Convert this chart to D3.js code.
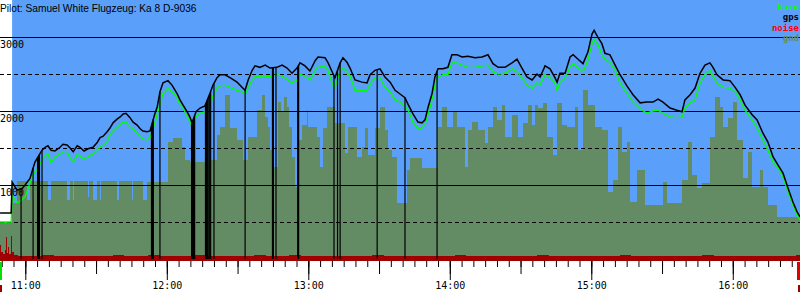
<!DOCTYPE html>
<html>
<head>
<meta charset="utf-8">
<script src="https://cdn.jsdelivr.net/npm/d3@7"></script>
<style>
  body { margin: 0; background: #fff; }
  svg { display: block; }
</style>
</head>
<body>
<div id="chart"></div>
<script>
// flight log, times are minutes after 10:00
const logStart = 49.27;
const logEnd = 388.5;
const launchMin = 54.4;

const timeMin = [
  49.3, 54.0, 54.4, 56.5, 58.6, 59.9, 62.0, 63.3, 64.1, 65.4,
  67.1, 68.4, 69.6, 70.9, 72.6, 74.7, 76.0, 77.7, 79.0, 80.3,
  82.0, 83.2, 84.9, 86.6, 88.7, 90.4, 91.7, 93.0, 94.7, 95.9,
  97.2, 98.9, 100.2, 101.5, 102.7, 104.4, 105.7, 107.4, 108.7, 109.9,
  111.6, 112.9, 114.2, 115.0, 115.9, 117.1, 118.4, 120.5, 122.2, 124.3,
  125.6, 126.9, 128.6, 129.9, 130.7, 132.4, 134.1, 136.2, 138.3, 139.6,
  141.3, 142.6, 144.7, 146.8, 149.8, 151.9, 153.2, 154.5, 156.2, 157.4,
  159.5, 161.7, 163.8, 166.7, 168.9, 171.0, 173.1, 175.2, 176.5, 178.6,
  180.7, 182.9, 184.1, 187.1, 188.4, 190.1, 191.3, 193.5, 194.7, 196.4,
  197.7, 199.8, 202.8, 204.9, 206.2, 208.3, 210.4, 212.5, 214.7, 216.8,
  218.9, 221.0, 222.3, 224.4, 226.5, 228.2, 229.5, 230.8, 232.5, 233.7,
  235.0, 237.1, 239.2, 240.9, 243.1, 245.2, 247.7, 250.7, 253.7, 256.2,
  258.3, 260.5, 263.4, 266.4, 268.5, 270.6, 272.7, 274.9, 277.0, 278.3,
  280.4, 282.5, 284.6, 285.5, 286.7, 288.9, 291.0, 292.3, 294.4, 296.5,
  298.6, 300.3, 301.2, 302.9, 304.5, 305.8, 307.9, 310.1, 312.2, 315.1,
  317.7, 320.7, 323.6, 326.2, 328.3, 330.4, 333.4, 336.3, 338.5, 339.7,
  341.9, 344.0, 346.1, 348.2, 350.3, 351.6, 353.3, 355.9, 358.8, 361.0,
  363.1, 365.2, 368.2, 370.3, 372.8, 374.9, 377.1, 379.2, 381.3, 383.4,
  385.5, 387.2, 388.5
];

const gpsAlt = [
  620, 620, 1040, 930, 950, 1000, 1090, 1230, 1310, 1380,
  1470, 1510, 1530, 1470, 1460, 1510, 1550, 1540, 1500, 1450,
  1530, 1510, 1460, 1490, 1510, 1570, 1640, 1660, 1720, 1770,
  1840, 1890, 1920, 1960, 1970, 1910, 1850, 1810, 1760, 1730,
  1720, 1730, 1880, 1970, 2050, 2260, 2380, 2410, 2350, 2240,
  2150, 2080, 1990, 1910, 1840, 1990, 2040, 2070, 2240, 2350,
  2450, 2490, 2490, 2450, 2390, 2320, 2280, 2420, 2550, 2610,
  2590, 2620, 2580, 2590, 2620, 2580, 2510, 2580, 2650, 2610,
  2540, 2680, 2730, 2720, 2650, 2530, 2450, 2650, 2720, 2660,
  2580, 2420, 2390, 2380, 2490, 2550, 2570, 2460, 2390, 2280,
  2230, 2180, 2090, 1960, 1850, 1840, 1880, 2050, 2240, 2460,
  2570, 2570, 2590, 2760, 2760, 2730, 2740, 2720, 2730, 2760,
  2640, 2590, 2590, 2650, 2700, 2580, 2460, 2420, 2500, 2460,
  2610, 2570, 2450, 2390, 2510, 2510, 2730, 2760, 2700, 2640,
  2800, 3040, 3090, 2990, 2910, 2780, 2760, 2620, 2490, 2340,
  2220, 2110, 2120, 2120, 2160, 2120, 2040, 2010, 1990, 2150,
  2220, 2310, 2510, 2620, 2650, 2590, 2490, 2420, 2410, 2320,
  2220, 2080, 1950, 1880, 1700, 1580, 1380, 1270, 1160, 960,
  770, 640, 570
];

const baroAlt = [
  500, 500, 860, 760, 800, 840, 1030, 1140, 1180, 1230,
  1340, 1390, 1420, 1300, 1380, 1420, 1450, 1450, 1360, 1310,
  1410, 1390, 1350, 1380, 1420, 1460, 1510, 1540, 1590, 1680,
  1730, 1780, 1820, 1850, 1850, 1780, 1760, 1700, 1650, 1620,
  1610, 1640, 1770, 1840, 1960, 2090, 2240, 2310, 2260, 2180,
  2090, 2040, 1930, 1850, 1780, 1920, 1970, 1990, 2080, 2200,
  2310, 2340, 2350, 2320, 2280, 2260, 2230, 2310, 2420, 2460,
  2470, 2470, 2460, 2490, 2470, 2430, 2380, 2420, 2500, 2470,
  2420, 2550, 2590, 2610, 2540, 2380, 2310, 2550, 2580, 2530,
  2470, 2280, 2280, 2280, 2360, 2450, 2450, 2320, 2260, 2150,
  2120, 2070, 2010, 1850, 1760, 1770, 1820, 1960, 2150, 2360,
  2460, 2490, 2490, 2650, 2650, 2620, 2590, 2590, 2610, 2620,
  2530, 2500, 2510, 2570, 2530, 2450, 2350, 2310, 2380, 2360,
  2490, 2460, 2380, 2280, 2390, 2450, 2590, 2640, 2580, 2530,
  2690, 2910, 2970, 2890, 2760, 2700, 2660, 2550, 2380, 2240,
  2120, 2030, 1970, 2000, 2010, 1970, 1920, 1910, 1920, 2040,
  2110, 2150, 2380, 2490, 2550, 2470, 2380, 2320, 2310, 2260,
  2150, 2010, 1880, 1770, 1610, 1470, 1310, 1230, 1110, 910,
  730, 590, 530
];

// moments without gps fix
const gpsDropMin = [
  58.2, 63.3, 65.2, 65.6, 66.0, 67.1,
  113.5, 113.9, 114.3, 117.1,
  130.5, 130.9, 131.3, 131.8,
  136.4, 136.8, 137.2, 137.8, 138.2, 138.6, 140.0,
  153.2, 164.8, 165.2, 166.3, 175.5, 175.9,
  190.9, 192.4, 193.5, 209.2, 221.0, 234.6
];

// terrain under the glider
const gndMin = [
  49.3, 54.4, 54.8, 56.5, 60.7, 62.0, 63.3, 63.7, 69.6, 70.9,
  77.7, 79.0, 80.3, 80.7, 86.6, 87.0, 88.7, 90.4, 91.7, 92.1,
  98.9, 99.7, 105.2, 105.7, 109.9, 111.6, 120.5, 122.6, 126.4, 127.7,
  129.9, 138.3, 141.3, 142.6, 144.7, 146.8, 149.8, 152.3, 154.5, 158.3,
  160.4, 161.7, 162.9, 163.8, 164.6, 167.2, 168.4, 169.7, 171.0, 171.8,
  173.1, 174.4, 175.7, 177.3, 179.4, 179.9, 183.7, 185.0, 186.2, 187.9,
  191.3, 195.6, 196.8, 200.7, 202.8, 204.0, 205.3, 208.3, 210.4, 212.5,
  213.8, 215.5, 217.6, 221.9, 223.1, 228.2, 235.0, 236.7, 238.8, 241.4,
  243.1, 246.5, 247.7, 249.4, 252.0, 254.9, 256.2, 258.3, 260.0, 262.1,
  263.4, 266.4, 268.9, 271.1, 273.2, 274.9, 276.1, 277.4, 279.5, 281.2,
  283.8, 285.5, 287.6, 289.7, 293.1, 294.4, 296.5, 298.6, 301.6, 304.5,
  307.1, 309.2, 311.3, 313.0, 315.1, 316.4, 319.4, 322.8, 330.4, 332.1,
  338.5, 341.0, 342.7, 344.8, 347.0, 350.3, 352.5, 354.6, 355.9, 358.0,
  360.1, 361.8, 364.3, 366.5, 368.2, 371.5, 372.8, 374.9, 378.8, 388.5
];
const gndAlt = [
  500, 1050, 760, 1050, 800, 1050, 800, 1050, 800, 1050,
  800, 1050, 800, 1050, 840, 1050, 800, 1050, 800, 1050,
  800, 1050, 800, 1050, 800, 1040, 1580, 1640, 1510, 1340,
  1310, 1340, 1680, 1780, 2220, 1770, 1610, 1340, 1650, 2010,
  2220, 1920, 1780, 1470, 1240, 2120, 1990, 2190, 2050, 1780,
  1380, 970, 1610, 1810, 2010, 1780, 1650, 1240, 1770, 2050,
  1840, 1430, 1780, 1380, 1510, 1770, 1410, 1770, 2050, 1740,
  1470, 1380, 760, 1200, 1370, 1230, 1780, 2050, 1780, 1990,
  1780, 1240, 1740, 1850, 1740, 1570, 1780, 2050, 1880, 2080,
  1650, 1950, 1650, 1840, 2080, 1810, 2080, 2040, 2110, 1650,
  1410, 2110, 1810, 1780, 2050, 1470, 2280, 2080, 1780, 1740,
  910, 1070, 1780, 1450, 1580, 770, 1200, 730, 1040, 760,
  1070, 1580, 1140, 960, 1030, 1650, 2190, 2050, 1780, 1910,
  2120, 1610, 1090, 1450, 970, 1200, 970, 730, 570, 570
];

// engine noise level, drawn on the altitude axis
const noiseMin = [
  49.3, 49.7, 50.6, 51.4, 51.8, 52.3, 52.7, 53.1, 54.0, 54.4, 55.2,
  57, 62, 67, 72, 77, 82, 87, 92, 97, 102, 107, 112, 117, 122, 127,
  132, 137, 142, 147, 152, 157, 162, 167, 172, 177, 182, 187, 192, 197,
  202, 207, 212, 217, 222, 227, 232, 237, 242, 247, 252, 257, 262, 267,
  272, 277, 282, 287, 292, 297, 302, 307, 312, 317, 322, 327, 332, 337,
  342, 347, 352, 357, 362, 367, 372, 377, 382, 387, 388.5
];
const noiseVal = [
  190, 95, 70, 120, 300, 80, 160, 70, 310, 95, 50,
  42, 38, 48, 38, 42, 35, 42, 38, 48, 38, 42, 52, 38, 42, 35,
  48, 42, 38, 42, 38, 55, 42, 38, 48, 38, 42, 35, 42, 38,
  42, 48, 38, 42, 38, 35, 42, 38, 48, 38, 42, 35, 38, 42,
  38, 48, 38, 42, 35, 38, 42, 38, 48, 38, 42, 38, 35, 42,
  38, 48, 38, 42, 38, 35, 42, 38, 42, 48, 48
];

const altTicks = [500, 1000, 1500, 2000, 2500, 3000];
const legendNames = ['baro', 'gps', 'noise', 'gnd'];
const legendColors = ['#00ff00', '#000000', '#ff0000', '#648c64'];
const title = 'Pilot: Samuel White Flugzeug: Ka 8 D-9036';

const width = 800;
const height = 300;
const plotBottom = 261;
const day = new Date(2000, 0, 1, 10, 0, 0);
const toDate = (m) => new Date(day.getTime() + m * 60000);

const x = d3.scaleTime()
  .domain([toDate(logStart), toDate(logEnd)])
  .range([0, width]);
const y = d3.scaleLinear()
  .domain([0, 3500])
  .range([259, 0]);

const svg = d3.select('#chart').append('svg')
  .attr('width', width)
  .attr('height', height);

svg.append('rect')
  .attr('width', width).attr('height', height)
  .attr('fill', '#fff');

// sky from launch on
svg.append('rect')
  .attr('x', x(toDate(launchMin)))
  .attr('y', 0)
  .attr('width', width - x(toDate(launchMin)))
  .attr('height', plotBottom)
  .attr('fill', '#5a9ffa');

const gnd = gndMin.map((m, i) => ({ t: toDate(m), v: gndAlt[i] }));
svg.append('path')
  .datum(gnd)
  .attr('d', d3.area()
    .curve(d3.curveStepAfter)
    .x(d => x(d.t))
    .y0(plotBottom)
    .y1(d => y(d.v)))
  .attr('fill', '#648c64')
  .attr('shape-rendering', 'crispEdges');

const noise = noiseMin.map((m, i) => ({ t: toDate(m), v: noiseVal[i] }));
svg.append('path')
  .datum(noise)
  .attr('d', d3.area()
    .curve(d3.curveStepAfter)
    .x(d => x(d.t))
    .y0(plotBottom)
    .y1(d => y(d.v)))
  .attr('fill', '#a00000')
  .attr('shape-rendering', 'crispEdges');

// grid
svg.append('g').classed('grid', true)
  .selectAll('line')
  .data(altTicks)
  .enter()
  .append('line')
  .attr('x1', 0)
  .attr('x2', width)
  .attr('y1', d => Math.round(y(d)) + 0.5)
  .attr('y2', d => Math.round(y(d)) + 0.5)
  .attr('stroke', '#000')
  .attr('stroke-width', 1)
  .attr('stroke-dasharray', d => d % 1000 === 0 ? null : '4,3');

svg.append('g').classed('alt-labels', true)
  .selectAll('text')
  .data(altTicks.filter(d => d % 1000 === 0))
  .enter()
  .append('text')
  .attr('x', 0)
  .attr('y', d => y(d) + 11)
  .text(d => d)
  .style('font-family', 'DejaVu Sans Mono')
  .style('font-size', '10px')
  .attr('fill', '#000');

const samples = timeMin.map((m, i) => ({ t: toDate(m), baro: baroAlt[i], gps: gpsAlt[i] }));

svg.append('path')
  .datum(samples)
  .attr('d', d3.line().x(d => x(d.t)).y(d => y(d.baro)))
  .attr('fill', 'none')
  .attr('stroke', '#00ff00')
  .attr('stroke-width', 1.3);

svg.append('path')
  .datum(samples)
  .attr('d', d3.line().x(d => x(d.t)).y(d => y(d.gps)))
  .attr('fill', 'none')
  .attr('stroke', '#000')
  .attr('stroke-width', 1.5);

// gps value where the fix was lost
const bisect = d3.bisector(d => d).left;
function gpsAt(m) {
  const i = Math.max(1, Math.min(timeMin.length - 1, bisect(timeMin, m)));
  const f = (m - timeMin[i - 1]) / (timeMin[i] - timeMin[i - 1]);
  return d3.interpolateNumber(gpsAlt[i - 1], gpsAlt[i])(f);
}

svg.append('g').classed('gps-drops', true)
  .selectAll('line')
  .data(gpsDropMin)
  .enter()
  .append('line')
  .attr('x1', d => x(toDate(d)))
  .attr('x2', d => x(toDate(d)))
  .attr('y1', d => y(gpsAt(d)))
  .attr('y2', y(0))
  .attr('stroke', '#000')
  .attr('stroke-width', 1.2);

// time axis: 5 min, half hour and hour ticks
const axis = svg.append('g').attr('transform', `translate(0,${plotBottom})`);
axis.append('g').call(d3.axisBottom(x).ticks(d3.timeMinute.every(5)).tickSize(6).tickFormat(''));
axis.append('g').call(d3.axisBottom(x).ticks(d3.timeMinute.every(30)).tickSize(13).tickFormat(''));
axis.append('g').call(d3.axisBottom(x).ticks(d3.timeHour.every(1)).tickSize(19).tickPadding(2)
  .tickFormat(d3.timeFormat('%H:%M')));
axis.selectAll('.domain').remove();
axis.selectAll('text')
  .style('font-family', 'DejaVu Sans Mono')
  .style('font-size', '10px')
  .attr('fill', '#000');

// log start / end marks
svg.append('rect').attr('x', x(toDate(logStart))).attr('y', 262).attr('width', 2).attr('height', 18).attr('fill', '#00e000');
svg.append('rect').attr('x', x(toDate(logStart))).attr('y', 285).attr('width', 2).attr('height', 7).attr('fill', '#a00000');
svg.append('rect').attr('x', x(toDate(logEnd)) - 3).attr('y', 262).attr('width', 3).attr('height', 18).attr('fill', '#e00000');
svg.append('rect').attr('x', x(toDate(logEnd)) - 2).attr('y', 285).attr('width', 2).attr('height', 7).attr('fill', '#a00000');

svg.append('text')
  .attr('x', 0)
  .attr('y', 12)
  .text(title)
  .style('font-family', 'Liberation Sans')
  .style('font-size', '10.2px')
  .attr('fill', '#000');

svg.append('g').classed('legend', true)
  .selectAll('text')
  .data(legendNames)
  .enter()
  .append('text')
  .attr('x', 799)
  .attr('y', (d, i) => 10 + i * 10.3)
  .attr('text-anchor', 'end')
  .text(d => d)
  .style('font-family', 'DejaVu Sans Mono')
  .style('font-size', '9px')
  .style('font-weight', 'bold')
  .attr('fill', (d, i) => legendColors[i]);
</script>
</body>
</html>
